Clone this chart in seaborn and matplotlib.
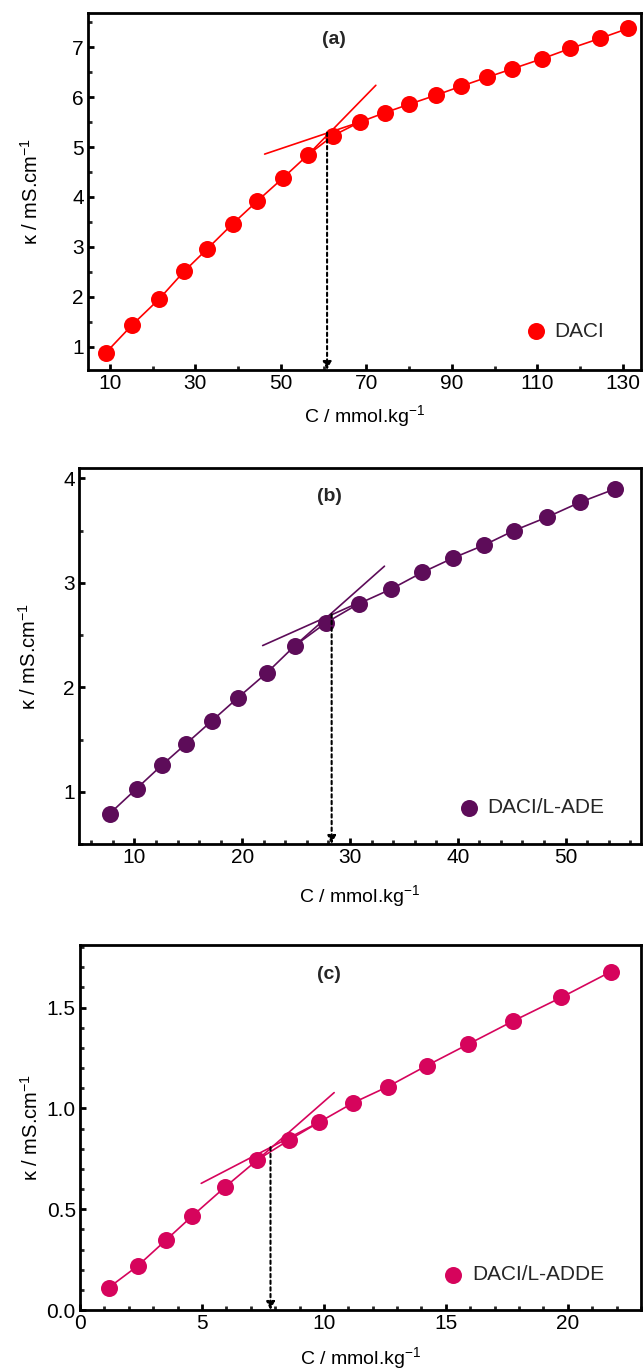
import numpy as np
import pandas as pd
import seaborn as sns
import matplotlib
matplotlib.use("Agg")
import matplotlib.pyplot as plt
from matplotlib.ticker import MultipleLocator

# ---------------- data ----------------
# Panel (a): DACI
c_a = [9.0, 15.3, 21.5, 27.4, 32.8, 38.7, 44.5, 50.6, 56.4, 62.2, 68.4, 74.3,
       80.0, 86.2, 92.1, 98.2, 104.1, 111.0, 117.7, 124.6, 131.2]
k_a = [0.87, 1.44, 1.95, 2.51, 2.96, 3.46, 3.92, 4.39, 4.85, 5.23, 5.50, 5.69,
       5.86, 6.04, 6.22, 6.40, 6.57, 6.77, 6.98, 7.18, 7.38]
steep_a_x, steep_a_y = [56.4, 72.2], [4.85, 6.24]
shallow_a_x, shallow_a_y = [46.2, 68.4], [4.86, 5.50]
cmc_a, cross_a = 60.8, 5.29

# Panel (b): DACI/L-ADE
c_b = [7.7, 10.2, 12.6, 14.8, 17.2, 19.6, 22.3, 24.9, 27.8, 30.8, 33.8, 36.7,
       39.6, 42.4, 45.2, 48.3, 51.3, 54.6]
k_b = [0.79, 1.03, 1.26, 1.46, 1.68, 1.90, 2.14, 2.40, 2.62, 2.80, 2.94, 3.10,
       3.24, 3.36, 3.50, 3.63, 3.77, 3.90]
steep_b_x, steep_b_y = [24.9, 33.2], [2.40, 3.16]
shallow_b_x, shallow_b_y = [21.9, 30.8], [2.40, 2.81]
cmc_b, cross_b = 28.3, 2.70

# Panel (c): DACI/L-ADDE
c_c = [1.18, 2.36, 3.51, 4.60, 5.95, 7.27, 8.57, 9.80, 11.21, 12.61, 14.22,
       15.90, 17.76, 19.73, 21.77]
k_c = [0.111, 0.218, 0.345, 0.466, 0.61, 0.744, 0.843, 0.931, 1.028, 1.107,
       1.212, 1.317, 1.433, 1.55, 1.678]
steep_c_x, steep_c_y = [7.27, 10.42], [0.744, 1.078]
shallow_c_x, shallow_c_y = [4.97, 9.80], [0.628, 0.931]
cmc_c, cross_c = 7.81, 0.807

panel_tags = ["(a)", "(b)", "(c)"]
series_names = ["DACI", "DACI/L-ADE", "DACI/L-ADDE"]
colors = ["#ff0000", "#5d0c59", "#d6045c"]

# ---------------- style ----------------
sns.set_theme(style="white")
plt.rcParams['font.family'] = ['Liberation Sans', 'DejaVu Sans']
plt.rcParams['mathtext.fontset'] = 'custom'
plt.rcParams['mathtext.rm'] = 'Liberation Sans'
plt.rcParams['mathtext.it'] = 'Liberation Sans:italic'

fig = plt.figure(figsize=(6.43, 13.71), dpi=100)
W, H = 643, 1371
def box(l, r, t, b):
    return [l / W, 1 - b / H, (r - l) / W, (b - t) / H]

axes_boxes = [box(88, 641, 13, 370), box(79, 641, 468, 844), box(80, 641, 945, 1310)]

panels = [
    dict(c=c_a, k=k_a, sx=steep_a_x, sy=steep_a_y, hx=shallow_a_x, hy=shallow_a_y,
         cmc=cmc_a, cross=cross_a, xlim=(4.9, 134.2), ylim=(0.53, 7.69),
         xmin=10, ymaj=1, ymin=0.5, xticks=[10, 30, 50, 70, 90, 110, 130],
         yfmt=None, leg=(0.787, 0.109), tag=(0.445, 0.925), ylab_x=-0.083, xlab_y=-0.092),
    dict(c=c_b, k=k_b, sx=steep_b_x, sy=steep_b_y, hx=shallow_b_x, hy=shallow_b_y,
         cmc=cmc_b, cross=cross_b, xlim=(4.86, 57.0), ylim=(0.5, 4.1),
         xmin=2, ymaj=1, ymin=0.5, xticks=[10, 20, 30, 40, 50],
         yfmt=None, leg=(0.671, 0.096), tag=(0.446, 0.925), ylab_x=-0.069, xlab_y=-0.105),
    dict(c=c_c, k=k_c, sx=steep_c_x, sy=steep_c_y, hx=shallow_c_x, hy=shallow_c_y,
         cmc=cmc_c, cross=cross_c, xlim=(0, 23.0), ylim=(0, 1.81),
         xmin=1, ymaj=0.5, ymin=0.1, xticks=[0, 5, 10, 15, 20],
         yfmt="%.1f", leg=(0.643, 0.096), tag=(0.443, 0.92), ylab_x=-0.068, xlab_y=-0.095),
]

for i, p in enumerate(panels):
    ax = fig.add_axes(axes_boxes[i])
    col = colors[i]
    df = pd.DataFrame({"C": p["c"], "k": p["k"]})
    sns.lineplot(data=df, x="C", y="k", ax=ax, color=col, lw=1.2, legend=False)
    sns.scatterplot(data=df, x="C", y="k", ax=ax, color=col, s=150, edgecolor=col,
                    linewidth=0, label=series_names[i], zorder=3)
    ax.plot(p["sx"], p["sy"], color=col, lw=1.2)
    ax.plot(p["hx"], p["hy"], color=col, lw=1.2)
    ax.annotate("", xy=(p["cmc"], p["ylim"][0]), xytext=(p["cmc"], p["cross"]),
                arrowprops=dict(arrowstyle="-|>", linestyle=(0, (1.6, 1.6)), lw=1.5,
                                color="black", mutation_scale=12, shrinkA=0, shrinkB=0))
    ax.set_xlim(*p["xlim"])
    ax.set_ylim(*p["ylim"])
    ax.set_xticks(p["xticks"])
    ax.yaxis.set_major_locator(MultipleLocator(p["ymaj"]))
    ax.xaxis.set_minor_locator(MultipleLocator(p["xmin"]))
    ax.yaxis.set_minor_locator(MultipleLocator(p["ymin"]))
    if p["yfmt"]:
        ax.yaxis.set_major_formatter(matplotlib.ticker.FormatStrFormatter(p["yfmt"]))
    ax.tick_params(axis="both", which="major", direction="in", length=4, width=2,
                   labelsize=15, colors="black", pad=3, bottom=True, left=True)
    ax.tick_params(axis="both", which="minor", direction="in", length=3, width=2,
                   bottom=True, left=True)
    for s in ax.spines.values():
        s.set_linewidth(2.0)
        s.set_color("black")
    ax.set_xlabel(r"C / mmol.kg$^{-1}$", fontsize=14, color="black")
    ax.set_ylabel(r"κ / mS.cm$^{-1}$", fontsize=14.5, color="black")
    ax.yaxis.set_label_coords(p["ylab_x"], 0.5)
    ax.xaxis.set_label_coords(0.5, p["xlab_y"])
    ax.text(p["tag"][0], p["tag"][1], panel_tags[i], transform=ax.transAxes,
            fontsize=14, fontweight="bold", ha="center", va="center")
    ax.legend(loc="center left", bbox_to_anchor=p["leg"], frameon=False, fontsize=15,
              handletextpad=0.3, borderpad=0, borderaxespad=0, handlelength=1.2,
              markerscale=1.0)

fig.savefig("out.png", dpi=100)
